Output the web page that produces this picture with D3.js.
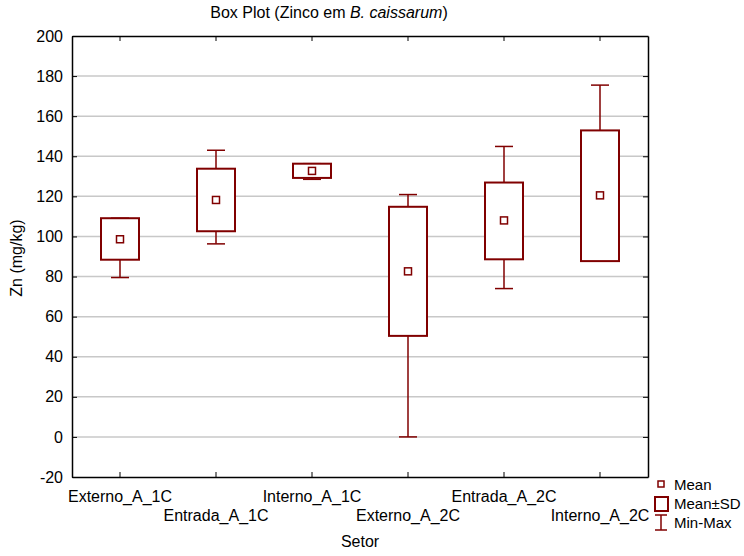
<!DOCTYPE html>
<html>
<head>
<meta charset="utf-8">
<script src="https://cdn.jsdelivr.net/npm/d3@7"></script>
<style>
  body { margin: 0; background: #fff; }
  text { font-family: "Liberation Sans", Arial, sans-serif; fill: #000; }
</style>
</head>
<body>
<div id="chart"></div>
<script>
// Data
const categories = ["Externo_A_1C", "Entrada_A_1C", "Interno_A_1C", "Externo_A_2C", "Entrada_A_2C", "Interno_A_2C"];
const means = [98.6, 118.2, 132.7, 82.6, 108.0, 120.5];
const sdLow = [88.4, 102.6, 129.2, 50.4, 88.6, 87.7];
const sdHigh = [109.1, 133.8, 136.3, 114.8, 126.9, 152.9];
const mins = [79.5, 96.3, 128.5, 0, 74.0, 87.7];
const maxs = [109.1, 143.0, 136.3, 120.9, 144.9, 175.5];
const yTicks = [-20, 0, 20, 40, 60, 80, 100, 120, 140, 160, 180, 200];

const width = 744;
const height = 556;
const margin = {top: 36, right: 96, bottom: 79, left: 72};
const color = "#800000";

const svg = d3.select("#chart")
  .append("svg")
  .attr("width", width)
  .attr("height", height);

const x = d3.scaleBand()
  .domain(categories)
  .range([margin.left, width - margin.right]);

const y = d3.scaleLinear()
  .domain([-20, 200])
  .range([height - margin.bottom, margin.top]);

// Title
const title = svg.append("text")
  .attr("x", 329)
  .attr("y", 18)
  .attr("text-anchor", "middle")
  .style("font-size", "16px");
title.append("tspan").text("Box Plot (Zinco em ");
title.append("tspan").style("font-style", "italic").text("B. caissarum");
title.append("tspan").text(")");

// Gridlines
svg.append("g")
  .selectAll("line")
  .data(yTicks.filter(d => d > -20 && d < 200))
  .enter()
  .append("line")
  .attr("x1", margin.left)
  .attr("x2", width - margin.right)
  .attr("y1", d => y(d))
  .attr("y2", d => y(d))
  .attr("stroke", "#c8c8c8")
  .attr("stroke-width", 1.5);

// Axes (ticks pointing inwards)
const yAxisL = svg.append("g")
  .attr("transform", `translate(${margin.left},0)`)
  .call(d3.axisLeft(y).tickValues(yTicks).tickSize(-5).tickPadding(9).tickSizeOuter(0)
    .tickFormat(d => d < 0 ? "-" + Math.abs(d) : d));
const yAxisR = svg.append("g")
  .attr("transform", `translate(${width - margin.right},0)`)
  .call(d3.axisRight(y).tickValues(yTicks).tickSize(-5).tickFormat("").tickSizeOuter(0));
const xAxisB = svg.append("g")
  .attr("transform", `translate(0,${height - margin.bottom})`)
  .call(d3.axisBottom(x).tickSize(-5).tickFormat("").tickSizeOuter(0));
const xAxisT = svg.append("g")
  .attr("transform", `translate(0,${margin.top})`)
  .call(d3.axisTop(x).tickSize(-5).tickFormat("").tickSizeOuter(0));

[yAxisL, yAxisR, xAxisB, xAxisT].forEach(g => {
  g.select(".domain").attr("stroke", "#000").attr("stroke-width", 1.5);
  g.selectAll(".tick line").attr("stroke", "#000");
});
yAxisL.selectAll(".tick text")
  .style("font-size", "16px")
  .style("font-family", "Liberation Sans, Arial, sans-serif")
  .attr("fill", "#000");

// Staggered category labels
svg.append("g")
  .selectAll("text")
  .data(categories)
  .enter()
  .append("text")
  .attr("x", d => x(d) + x.bandwidth() / 2)
  .attr("y", (d, i) => i % 2 === 0 ? 502 : 521)
  .attr("text-anchor", "middle")
  .style("font-size", "16px")
  .text(d => d);

// Axis titles
svg.append("text")
  .attr("x", 360)
  .attr("y", 547)
  .attr("text-anchor", "middle")
  .style("font-size", "16px")
  .text("Setor");

svg.append("text")
  .attr("transform", `translate(22,258) rotate(-90)`)
  .attr("text-anchor", "middle")
  .style("font-size", "16px")
  .text("Zn (mg/kg)");

// Boxes
const boxW = 38;
const capW = 18;
const box = svg.append("g")
  .selectAll("g")
  .data(categories.map((c, i) => ({c, i})))
  .enter()
  .append("g")
  .attr("transform", d => `translate(${x(d.c) + x.bandwidth() / 2},0)`);

box.append("line")
  .attr("x1", 0).attr("x2", 0)
  .attr("y1", d => y(sdHigh[d.i]))
  .attr("y2", d => y(maxs[d.i]))
  .attr("stroke", color).attr("stroke-width", 1.5);
box.append("line")
  .attr("x1", -capW / 2).attr("x2", capW / 2)
  .attr("y1", d => y(maxs[d.i]))
  .attr("y2", d => y(maxs[d.i]))
  .attr("stroke", color).attr("stroke-width", 1.5);
box.append("line")
  .attr("x1", 0).attr("x2", 0)
  .attr("y1", d => y(sdLow[d.i]))
  .attr("y2", d => y(mins[d.i]))
  .attr("stroke", color).attr("stroke-width", 1.5);
box.append("line")
  .attr("x1", -capW / 2).attr("x2", capW / 2)
  .attr("y1", d => y(mins[d.i]))
  .attr("y2", d => y(mins[d.i]))
  .attr("stroke", color).attr("stroke-width", 1.5);

box.append("rect")
  .attr("x", -boxW / 2)
  .attr("y", d => y(sdHigh[d.i]))
  .attr("width", boxW)
  .attr("height", d => y(sdLow[d.i]) - y(sdHigh[d.i]))
  .attr("fill", "#fff")
  .attr("stroke", color)
  .attr("stroke-width", 2);

box.append("rect")
  .attr("x", -3.5)
  .attr("y", d => y(means[d.i]) - 3.5)
  .attr("width", 7)
  .attr("height", 7)
  .attr("fill", "#fff")
  .attr("stroke", color)
  .attr("stroke-width", 1.5);

// Legend
const lg = svg.append("g").attr("transform", "translate(661,0)");
lg.append("rect")
  .attr("x", -3).attr("y", 481).attr("width", 6).attr("height", 6)
  .attr("fill", "#fff").attr("stroke", color).attr("stroke-width", 1.5);
lg.append("rect")
  .attr("x", -6).attr("y", 497).attr("width", 13).attr("height", 14)
  .attr("fill", "#fff").attr("stroke", color).attr("stroke-width", 2);
lg.append("line")
  .attr("x1", 0).attr("x2", 0).attr("y1", 515).attr("y2", 530)
  .attr("stroke", color).attr("stroke-width", 1.5);
lg.append("line")
  .attr("x1", -6).attr("x2", 6).attr("y1", 515).attr("y2", 515)
  .attr("stroke", color).attr("stroke-width", 1.5);
lg.append("line")
  .attr("x1", -6).attr("x2", 6).attr("y1", 530).attr("y2", 530)
  .attr("stroke", color).attr("stroke-width", 1.5);

lg.selectAll("text.leg")
  .data(["Mean", "Mean±SD", "Min-Max"])
  .enter()
  .append("text")
  .attr("class", "leg")
  .attr("x", 13)
  .attr("y", (d, i) => 490 + i * 19)
  .style("font-size", "15px")
  .text(d => d);
</script>
</body>
</html>
